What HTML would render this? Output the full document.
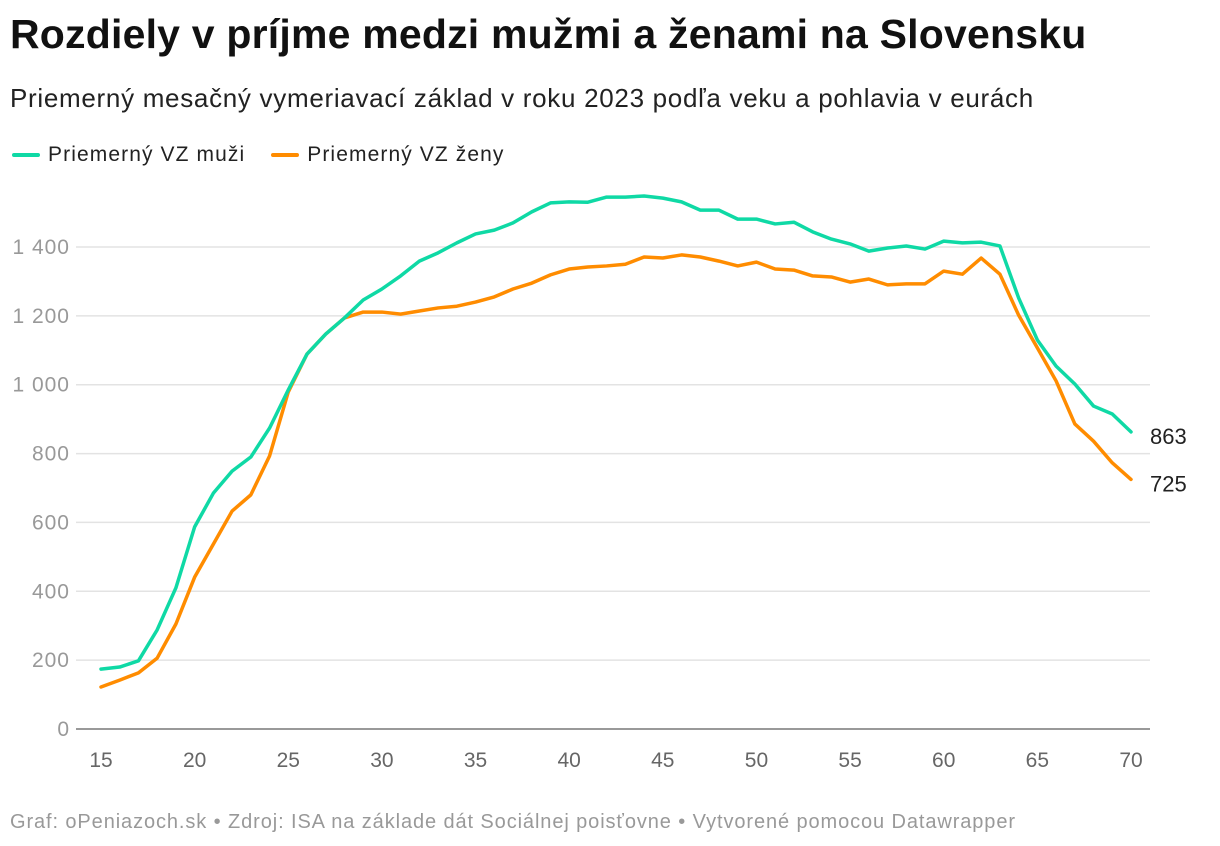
<!DOCTYPE html>
<html><head><meta charset="utf-8"><style>
body{margin:0;background:#fff;width:1220px;height:846px;overflow:hidden;font-family:"Liberation Sans",sans-serif;position:relative}
#title{position:absolute;left:10px;top:11px;font-size:41px;font-weight:bold;color:#111;letter-spacing:0.2px;white-space:nowrap}
#sub{position:absolute;left:10px;top:83px;font-size:26px;color:#222;letter-spacing:0.7px;white-space:nowrap}
#legend{position:absolute;left:12px;top:143px;font-size:21px;color:#222;display:flex;gap:26px;letter-spacing:1.1px}
.li{display:flex;align-items:center;gap:8px}.sw{width:28px;height:4px;border-radius:2px}
#foot{position:absolute;left:10px;top:811px;font-size:20px;color:#999;letter-spacing:0.9px;white-space:nowrap}
svg{position:absolute;left:0;top:0}
</style></head><body>
<div id="title">Rozdiely v príjme medzi mužmi a ženami na Slovensku</div>
<div id="sub">Priemerný mesačný vymeriavací základ v roku 2023 podľa veku a pohlavia v eurách</div>
<div id="legend">
<div class="li"><span class="sw" style="background:#0fd9a5"></span>Priemerný VZ muži</div>
<div class="li"><span class="sw" style="background:#ff8c00"></span>Priemerný VZ ženy</div>
</div>
<svg id="chart" width="1220" height="846"></svg>
<div id="foot">Graf: oPeniazoch.sk • Zdroj: ISA na základe dát Sociálnej poisťovne • Vytvorené pomocou Datawrapper</div>
<script>
const ages=[15,16,17,18,19,20,21,22,23,24,25,26,27,28,29,30,31,32,33,34,35,36,37,38,39,40,41,42,43,44,45,46,47,48,49,50,51,52,53,54,55,56,57,58,59,60,61,62,63,64,65,66,67,68,69,70];
const men=[174,180,198,288,410,587,685,749,790,874,985,1089,1147,1194,1246,1278,1316,1359,1383,1412,1438,1449,1470,1502,1528,1531,1530,1545,1545,1548,1542,1531,1507,1507,1481,1481,1467,1472,1444,1423,1409,1388,1397,1403,1394,1417,1412,1414,1403,1252,1130,1054,1002,938,915,863];
const women=[122,142,163,206,305,441,537,633,680,793,979,1089,1147,1194,1211,1211,1205,1214,1223,1228,1240,1255,1278,1295,1319,1336,1342,1345,1350,1371,1368,1377,1371,1359,1345,1356,1336,1333,1316,1313,1298,1307,1290,1293,1293,1330,1321,1368,1321,1202,1107,1011,886,836,773,725];
const yTicks=[0,200,400,600,800,1000,1200,1400];
const yLabels=["0","200","400","600","800","1 000","1 200","1 400"];
const xTicks=[15,20,25,30,35,40,45,50,55,60,65,70];
const NS="http://www.w3.org/2000/svg",svg=document.getElementById('chart');
const X=a=>101+(a-15)*(1131-101)/55, Y=v=>729-v*(729-247)/1400;
function mk(t,at){const e=document.createElementNS(NS,t);for(const k in at)e.setAttribute(k,at[k]);svg.appendChild(e);return e;}
yTicks.forEach((t,i)=>{
 const l=mk('line',{x1:76,x2:1150,y1:Y(t),y2:Y(t),stroke:t===0?'#333':'#e3e3e3','stroke-width':t===0?1:1.5});
 
 
 const tx=mk('text',{x:70,y:Y(t)+7,'text-anchor':'end','font-size':21,fill:'#999','font-family':'Liberation Sans','letter-spacing':1});
 tx.textContent=yLabels[i];
 
 
});
xTicks.forEach(t=>{
 const tx=mk('text',{x:X(t),y:767,'text-anchor':'middle','font-size':21,fill:'#666','font-family':'Liberation Sans'});
 tx.textContent=t;
 
 
});
function line(vals,col,name){
 const p=mk('polyline',{points:vals.map((v,i)=>X(ages[i])+','+Y(v)).join(' '),fill:'none',stroke:col,'stroke-width':3.5,'stroke-linejoin':'round','stroke-linecap':'round'});
 
 
}
line(women,'#ff8c00','line-women');
line(men,'#0fd9a5','line-men');
[[men,'end-label-men'],[women,'end-label-women']].forEach(([vals,n])=>{
 const v=vals[vals.length-1];
 const tx=mk('text',{x:1150,y:Y(v)+12,'font-size':22,fill:'#222','font-family':'Liberation Sans'});
 tx.textContent=v;
 
 
});
</script>
</body></html>
